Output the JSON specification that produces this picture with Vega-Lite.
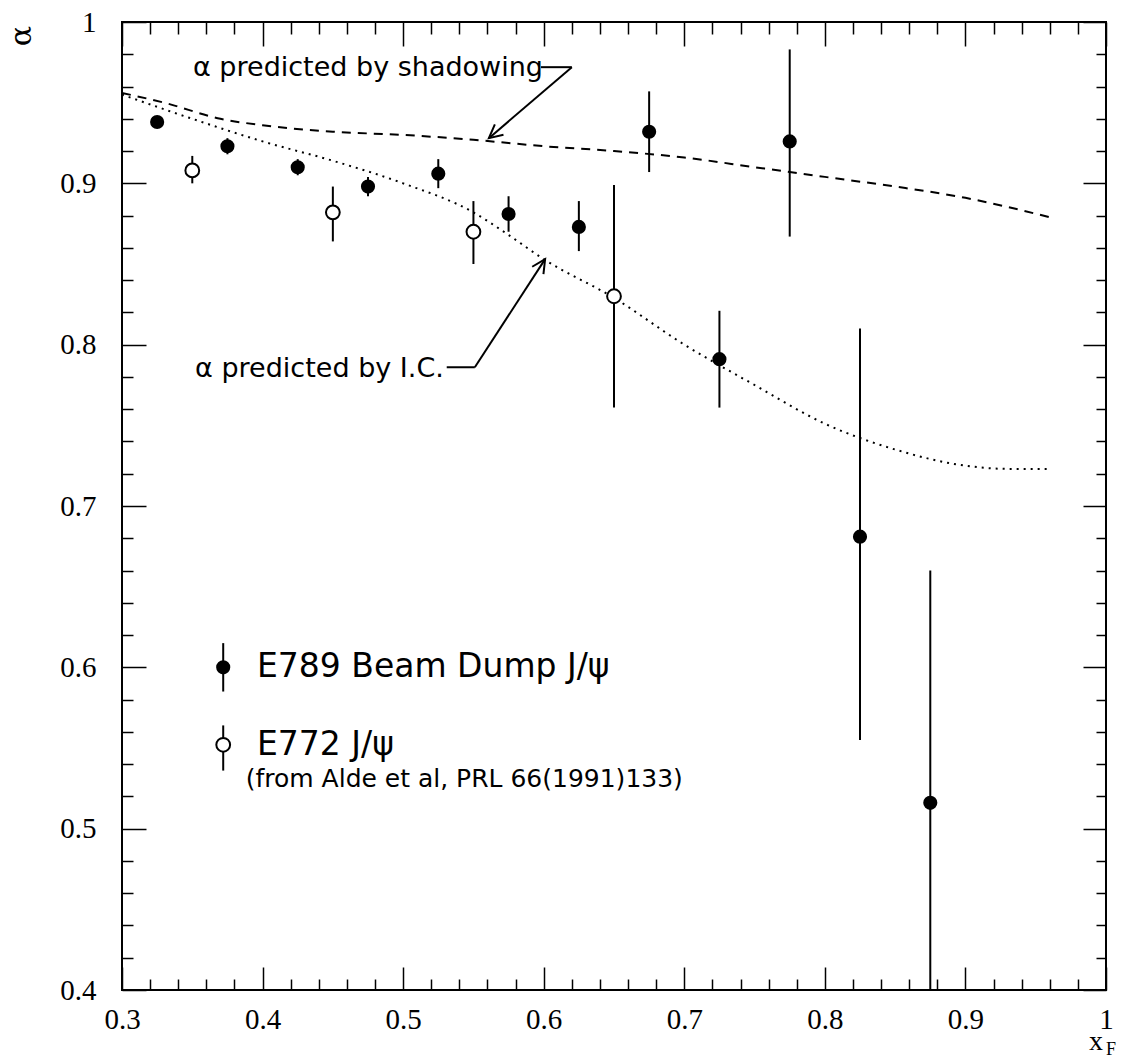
{
  "$schema": "https://vega.github.io/schema/vega-lite/v6.json",
  "width": 984,
  "height": 968,
  "autosize": "none",
  "padding": {"left": 122, "top": 22, "right": 16, "bottom": 70},
  "background": "white",
  "config": {
    "view": {"stroke": "black", "strokeWidth": 2},
    "axis": {"grid": false, "domain": false, "tickColor": "black", "tickWidth": 1.5, "labelColor": "black", "labelFont": "Liberation Serif", "labelFontSize": 29, "labelOverlap": false, "labelFlush": false, "titleColor": "black"}
  },
  "datasets": {
    "one": [{}],
    "shadowing": [
      {"x": 0.30, "y": 0.956}, {"x": 0.33, "y": 0.950}, {"x": 0.37, "y": 0.940}, {"x": 0.40, "y": 0.936},
      {"x": 0.45, "y": 0.932}, {"x": 0.50, "y": 0.930}, {"x": 0.55, "y": 0.927}, {"x": 0.60, "y": 0.923},
      {"x": 0.65, "y": 0.920}, {"x": 0.70, "y": 0.916}, {"x": 0.75, "y": 0.910}, {"x": 0.80, "y": 0.904},
      {"x": 0.85, "y": 0.898}, {"x": 0.90, "y": 0.891}, {"x": 0.96, "y": 0.879}
    ],
    "ic": [
      {"x": 0.30, "y": 0.955}, {"x": 0.35, "y": 0.940}, {"x": 0.40, "y": 0.926}, {"x": 0.45, "y": 0.914},
      {"x": 0.50, "y": 0.900}, {"x": 0.55, "y": 0.882}, {"x": 0.575, "y": 0.868}, {"x": 0.60, "y": 0.853},
      {"x": 0.65, "y": 0.829}, {"x": 0.70, "y": 0.800}, {"x": 0.75, "y": 0.775}, {"x": 0.80, "y": 0.751},
      {"x": 0.85, "y": 0.735}, {"x": 0.90, "y": 0.725}, {"x": 0.93, "y": 0.723}, {"x": 0.96, "y": 0.723}
    ],
    "e789": [
      {"x": 0.325, "y": 0.938, "lo": 0.935, "hi": 0.941},
      {"x": 0.375, "y": 0.923, "lo": 0.918, "hi": 0.928},
      {"x": 0.425, "y": 0.910, "lo": 0.905, "hi": 0.915},
      {"x": 0.475, "y": 0.898, "lo": 0.892, "hi": 0.904},
      {"x": 0.525, "y": 0.906, "lo": 0.897, "hi": 0.915},
      {"x": 0.575, "y": 0.881, "lo": 0.870, "hi": 0.892},
      {"x": 0.625, "y": 0.873, "lo": 0.858, "hi": 0.889},
      {"x": 0.675, "y": 0.932, "lo": 0.907, "hi": 0.957},
      {"x": 0.725, "y": 0.791, "lo": 0.761, "hi": 0.821},
      {"x": 0.775, "y": 0.926, "lo": 0.867, "hi": 0.983},
      {"x": 0.825, "y": 0.681, "lo": 0.555, "hi": 0.810},
      {"x": 0.875, "y": 0.516, "lo": 0.400, "hi": 0.660}
    ],
    "e772": [
      {"x": 0.35, "y": 0.908, "lo": 0.900, "hi": 0.917},
      {"x": 0.45, "y": 0.882, "lo": 0.864, "hi": 0.898},
      {"x": 0.55, "y": 0.870, "lo": 0.850, "hi": 0.889},
      {"x": 0.65, "y": 0.830, "lo": 0.761, "hi": 0.899}
    ]
  },
  "resolve": {"axis": {"x": "independent", "y": "independent"}},
  "layer": [
    {
      "data": {"name": "shadowing"},
      "mark": {"type": "line", "color": "black", "strokeWidth": 2, "strokeDash": [9, 7], "interpolate": "monotone"},
      "encoding": {
        "x": {"field": "x", "type": "quantitative", "scale": {"domain": [0.3, 1], "nice": false, "zero": false},
          "axis": {"orient": "bottom", "title": null,
            "values": [0.3,0.32,0.34,0.36,0.38,0.4,0.42,0.44,0.46,0.48,0.5,0.52,0.54,0.56,0.58,0.6,0.62,0.64,0.66,0.68,0.7,0.72,0.74,0.76,0.78,0.8,0.82,0.84,0.86,0.88,0.9,0.92,0.94,0.96,0.98,1],
            "tickSize": {"condition": {"test": "abs(datum.value*10-round(datum.value*10))<0.001", "value": -23}, "value": -11},
            "labelExpr": "abs(datum.value*10-round(datum.value*10))<0.001 ? format(datum.value,'.1~f') : ''",
            "labelPadding": 38}},
        "y": {"field": "y", "type": "quantitative", "scale": {"domain": [0.4, 1], "nice": false, "zero": false},
          "axis": {"orient": "left", "title": null,
            "values": [0.4,0.42,0.44,0.46,0.48,0.5,0.52,0.54,0.56,0.58,0.6,0.62,0.64,0.66,0.68,0.7,0.72,0.74,0.76,0.78,0.8,0.82,0.84,0.86,0.88,0.9,0.92,0.94,0.96,0.98,1],
            "tickSize": {"condition": {"test": "abs(datum.value*10-round(datum.value*10))<0.001", "value": -24}, "value": -11},
            "labelExpr": "abs(datum.value*10-round(datum.value*10))<0.001 ? format(datum.value,'.1~f') : ''",
            "labelPadding": 50}}
      }
    },
    {
      "data": {"name": "ic"},
      "mark": {"type": "line", "color": "black", "strokeWidth": 2, "strokeDash": [2, 5], "interpolate": "monotone"},
      "encoding": {
        "x": {"field": "x", "type": "quantitative", "scale": {"domain": [0.3, 1], "nice": false, "zero": false},
          "axis": {"orient": "top", "title": null, "labels": false,
            "values": [0.3,0.32,0.34,0.36,0.38,0.4,0.42,0.44,0.46,0.48,0.5,0.52,0.54,0.56,0.58,0.6,0.62,0.64,0.66,0.68,0.7,0.72,0.74,0.76,0.78,0.8,0.82,0.84,0.86,0.88,0.9,0.92,0.94,0.96,0.98,1],
            "tickSize": {"condition": {"test": "abs(datum.value*10-round(datum.value*10))<0.001", "value": -24}, "value": -12}}},
        "y": {"field": "y", "type": "quantitative", "scale": {"domain": [0.4, 1], "nice": false, "zero": false},
          "axis": {"orient": "right", "title": null, "labels": false,
            "values": [0.4,0.42,0.44,0.46,0.48,0.5,0.52,0.54,0.56,0.58,0.6,0.62,0.64,0.66,0.68,0.7,0.72,0.74,0.76,0.78,0.8,0.82,0.84,0.86,0.88,0.9,0.92,0.94,0.96,0.98,1],
            "tickSize": {"condition": {"test": "abs(datum.value*10-round(datum.value*10))<0.001", "value": -23}, "value": -10}}}
      }
    },
    {
      "data": {"name": "e789"},
      "mark": {"type": "rule", "color": "black", "strokeWidth": 2},
      "encoding": {
        "x": {"field": "x", "type": "quantitative", "axis": null},
        "y": {"field": "lo", "type": "quantitative", "axis": null},
        "y2": {"field": "hi"}
      }
    },
    {
      "data": {"name": "e772"},
      "mark": {"type": "rule", "color": "black", "strokeWidth": 2},
      "encoding": {
        "x": {"field": "x", "type": "quantitative", "axis": null},
        "y": {"field": "lo", "type": "quantitative", "axis": null},
        "y2": {"field": "hi"}
      }
    },
    {
      "data": {"name": "e789"},
      "mark": {"type": "point", "shape": "circle", "filled": true, "color": "black", "size": 200, "opacity": 1},
      "encoding": {
        "x": {"field": "x", "type": "quantitative", "axis": null},
        "y": {"field": "y", "type": "quantitative", "axis": null}
      }
    },
    {
      "data": {"name": "e772"},
      "mark": {"type": "point", "shape": "circle", "fill": "white", "stroke": "black", "strokeWidth": 2, "size": 190, "opacity": 1},
      "encoding": {
        "x": {"field": "x", "type": "quantitative", "axis": null},
        "y": {"field": "y", "type": "quantitative", "axis": null}
      }
    },
    {
      "data": {"name": "one"},
      "mark": {"type": "text", "text": "α", "align": "center", "baseline": "middle", "font": "DejaVu Serif", "fontSize": 30, "color": "black", "angle": 270, "dx": -14, "dy": -100},
      "encoding": {"x": {"datum": 0.3, "type": "quantitative", "axis": null}, "y": {"datum": 1.0, "type": "quantitative", "axis": null}}
    },
    {
      "data": {"name": "one"},
      "mark": {"type": "text", "text": "α predicted by shadowing", "align": "left", "baseline": "middle", "font": "DejaVu Sans", "fontSize": 27, "color": "black"},
      "encoding": {"x": {"datum": 0.3505, "type": "quantitative", "axis": null}, "y": {"datum": 0.9716, "type": "quantitative", "axis": null}}
    },
    {
      "data": {"name": "one"},
      "mark": {"type": "rule", "color": "black", "strokeWidth": 2},
      "encoding": {"x": {"datum": 0.598, "type": "quantitative", "axis": null}, "x2": {"datum": 0.620}, "y": {"datum": 0.972, "type": "quantitative", "axis": null}, "y2": {"datum": 0.972}}
    },
    {
      "data": {"name": "one"},
      "mark": {"type": "rule", "color": "black", "strokeWidth": 2},
      "encoding": {"x": {"datum": 0.620, "type": "quantitative", "axis": null}, "x2": {"datum": 0.561}, "y": {"datum": 0.972, "type": "quantitative", "axis": null}, "y2": {"datum": 0.928}}
    },
    {
      "data": {"name": "one"},
      "mark": {"type": "point", "shape": "M -0.6 1.2 L 0 0 L 0.6 1.2", "filled": false, "color": "black", "strokeWidth": 2, "size": 500, "angle": 230, "opacity": 1},
      "encoding": {"x": {"datum": 0.561, "type": "quantitative", "axis": null}, "y": {"datum": 0.928, "type": "quantitative", "axis": null}}
    },
    {
      "data": {"name": "one"},
      "mark": {"type": "text", "text": "α predicted by I.C.", "align": "left", "baseline": "middle", "font": "DejaVu Sans", "fontSize": 27, "color": "black"},
      "encoding": {"x": {"datum": 0.352, "type": "quantitative", "axis": null}, "y": {"datum": 0.785, "type": "quantitative", "axis": null}}
    },
    {
      "data": {"name": "one"},
      "mark": {"type": "rule", "color": "black", "strokeWidth": 2},
      "encoding": {"x": {"datum": 0.531, "type": "quantitative", "axis": null}, "x2": {"datum": 0.551}, "y": {"datum": 0.786, "type": "quantitative", "axis": null}, "y2": {"datum": 0.786}}
    },
    {
      "data": {"name": "one"},
      "mark": {"type": "rule", "color": "black", "strokeWidth": 2},
      "encoding": {"x": {"datum": 0.551, "type": "quantitative", "axis": null}, "x2": {"datum": 0.601}, "y": {"datum": 0.786, "type": "quantitative", "axis": null}, "y2": {"datum": 0.853}}
    },
    {
      "data": {"name": "one"},
      "mark": {"type": "point", "shape": "M -0.6 1.2 L 0 0 L 0.6 1.2", "filled": false, "color": "black", "strokeWidth": 2, "size": 500, "angle": 33, "opacity": 1},
      "encoding": {"x": {"datum": 0.601, "type": "quantitative", "axis": null}, "y": {"datum": 0.853, "type": "quantitative", "axis": null}}
    },
    {
      "data": {"name": "one"},
      "mark": {"type": "rule", "color": "black", "strokeWidth": 2},
      "encoding": {"x": {"datum": 0.372, "type": "quantitative", "axis": null}, "y": {"datum": 0.585, "type": "quantitative", "axis": null}, "y2": {"datum": 0.615}}
    },
    {
      "data": {"name": "one"},
      "mark": {"type": "point", "shape": "circle", "filled": true, "color": "black", "size": 200, "opacity": 1},
      "encoding": {"x": {"datum": 0.372, "type": "quantitative", "axis": null}, "y": {"datum": 0.600, "type": "quantitative", "axis": null}}
    },
    {
      "data": {"name": "one"},
      "mark": {"type": "text", "text": "E789 Beam Dump J/ψ", "align": "left", "baseline": "middle", "font": "DejaVu Sans", "fontSize": 33, "color": "black"},
      "encoding": {"x": {"datum": 0.396, "type": "quantitative", "axis": null}, "y": {"datum": 0.600, "type": "quantitative", "axis": null}}
    },
    {
      "data": {"name": "one"},
      "mark": {"type": "rule", "color": "black", "strokeWidth": 2},
      "encoding": {"x": {"datum": 0.372, "type": "quantitative", "axis": null}, "y": {"datum": 0.536, "type": "quantitative", "axis": null}, "y2": {"datum": 0.564}}
    },
    {
      "data": {"name": "one"},
      "mark": {"type": "point", "shape": "circle", "fill": "white", "stroke": "black", "strokeWidth": 2, "size": 190, "opacity": 1},
      "encoding": {"x": {"datum": 0.372, "type": "quantitative", "axis": null}, "y": {"datum": 0.552, "type": "quantitative", "axis": null}}
    },
    {
      "data": {"name": "one"},
      "mark": {"type": "text", "text": "E772 J/ψ", "align": "left", "baseline": "middle", "font": "DejaVu Sans", "fontSize": 33, "color": "black"},
      "encoding": {"x": {"datum": 0.396, "type": "quantitative", "axis": null}, "y": {"datum": 0.552, "type": "quantitative", "axis": null}}
    },
    {
      "data": {"name": "one"},
      "mark": {"type": "text", "text": "(from Alde et al, PRL 66(1991)133)", "align": "left", "baseline": "middle", "font": "DejaVu Sans", "fontSize": 25, "color": "black"},
      "encoding": {"x": {"datum": 0.388, "type": "quantitative", "axis": null}, "y": {"datum": 0.5306, "type": "quantitative", "axis": null}}
    },
    {
      "data": {"name": "one"},
      "mark": {"type": "text", "text": "x", "align": "center", "baseline": "middle", "font": "Liberation Serif", "fontSize": 28, "color": "black", "dx": -10, "dy": 52},
      "encoding": {"x": {"datum": 1.0, "type": "quantitative", "axis": null}, "y": {"datum": 0.4, "type": "quantitative", "axis": null}}
    },
    {
      "data": {"name": "one"},
      "mark": {"type": "text", "text": "F", "align": "left", "baseline": "middle", "font": "Liberation Serif", "fontSize": 18, "color": "black", "dx": 0, "dy": 60},
      "encoding": {"x": {"datum": 1.0, "type": "quantitative", "axis": null}, "y": {"datum": 0.4, "type": "quantitative", "axis": null}}
    }
  ]
}
